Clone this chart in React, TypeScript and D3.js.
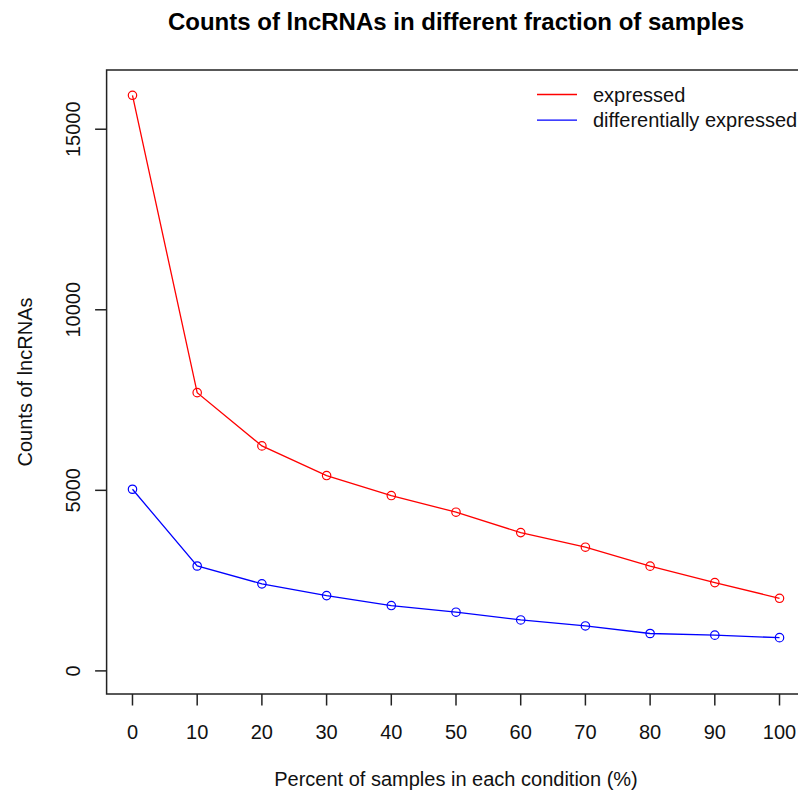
import React from "react";
import * as d3 from "d3";

// Percent of samples in each condition
const percents = [0, 10, 20, 30, 40, 50, 60, 70, 80, 90, 100];
// Counts of lncRNAs
const expressed = [15940, 7705, 6230, 5410, 4855, 4395, 3830, 3425, 2900, 2445, 2010];
const diffExpressed = [5030, 2905, 2410, 2085, 1810, 1625, 1410, 1245, 1035, 990, 920];

const xTicks = [0, 10, 20, 30, 40, 50, 60, 70, 80, 90, 100];
const yTicks = [0, 5000, 10000, 15000];

const seriesNames = ["expressed", "differentially expressed"];
const seriesColors = ["#FF0000", "#0000FF"];

const W = 798;
const H = 794;
const plot = { left: 106.6, right: 805.4, top: 70, bottom: 694 };
const FONT = "'Liberation Sans', Arial, sans-serif";

export default function App() {
  const x = d3.scaleLinear().domain([-4, 104]).range([plot.left, plot.right]);
  const y = d3.scaleLinear().domain([-640, 16640]).range([plot.bottom, plot.top]);

  const line = d3
    .line<[number, number]>()
    .x((d) => x(d[0]))
    .y((d) => y(d[1]));

  const series = [expressed, diffExpressed].map((vals) =>
    percents.map((p, i) => [p, vals[i]] as [number, number])
  );

  const tickLen = 11.5;

  return (
    <svg
      width={W}
      height={H}
      style={{ position: "absolute", left: 0, top: 0, background: "#fff" }}
      fontFamily={FONT}
    >
      <rect x={0} y={0} width={W} height={H} fill="#fff" />

      {/* title */}
      <text
        x={(plot.left + plot.right) / 2}
        y={30}
        textAnchor="middle"
        fontSize={24}
        fontWeight="bold"
        fill="#000"
      >
        Counts of lncRNAs in different fraction of samples
      </text>

      {/* series */}
      {series.map((pts, si) => (
        <g key={si}>
          <path d={line(pts) || ""} fill="none" stroke={seriesColors[si]} strokeWidth={1.3} />
          {pts.map((p, i) => (
            <circle
              key={i}
              cx={x(p[0])}
              cy={y(p[1])}
              r={4.2}
              fill="none"
              stroke={seriesColors[si]}
              strokeWidth={1.2}
            />
          ))}
        </g>
      ))}

      {/* plot frame */}
      <rect
        x={plot.left}
        y={plot.top}
        width={plot.right - plot.left}
        height={plot.bottom - plot.top}
        fill="none"
        stroke="#222"
        strokeWidth={1.5}
      />

      {/* x axis */}
      {xTicks.map((t) => (
        <g key={t}>
          <line
            x1={x(t)}
            x2={x(t)}
            y1={plot.bottom}
            y2={plot.bottom + tickLen}
            stroke="#222"
            strokeWidth={1.5}
          />
          <text x={x(t)} y={739} textAnchor="middle" fontSize={20} fill="#111">
            {t}
          </text>
        </g>
      ))}
      <text
        x={(plot.left + plot.right) / 2}
        y={786}
        textAnchor="middle"
        fontSize={20}
        fill="#111"
      >
        Percent of samples in each condition (%)
      </text>

      {/* y axis */}
      {yTicks.map((t) => (
        <g key={t}>
          <line
            x1={plot.left - tickLen}
            x2={plot.left}
            y1={y(t)}
            y2={y(t)}
            stroke="#222"
            strokeWidth={1.5}
          />
          <text
            transform={`translate(80,${y(t)}) rotate(-90)`}
            textAnchor="middle"
            fontSize={20}
            fill="#111"
          >
            {t}
          </text>
        </g>
      ))}
      <text
        transform={`translate(31.5,${(plot.top + plot.bottom) / 2}) rotate(-90)`}
        textAnchor="middle"
        fontSize={20}
        fill="#111"
      >
        Counts of lncRNAs
      </text>

      {/* legend */}
      {seriesNames.map((name, i) => {
        const ly = 94.5 + i * 25.7;
        return (
          <g key={name}>
            <line x1={537} x2={577} y1={ly} y2={ly} stroke={seriesColors[i]} strokeWidth={1.3} />
            <text x={593} y={ly + 7} fontSize={20} fill="#111">
              {name}
            </text>
          </g>
        );
      })}
    </svg>
  );
}
